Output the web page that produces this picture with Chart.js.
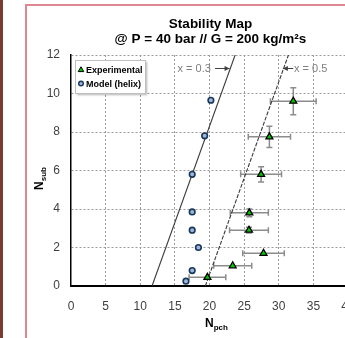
<!DOCTYPE html>
<html>
<head>
<meta charset="utf-8">
<script src="https://cdn.jsdelivr.net/npm/chart.js@4.4.0/dist/chart.umd.min.js"></script>
<style>
  html, body { margin: 0; padding: 0; background: #fff; overflow: hidden; }
  body { width: 345px; height: 338px; position: relative; }
  #edge { position: absolute; left: 0; top: 0; width: 3px; height: 338px; background: #7b3b33; }
  #frame { position: absolute; left: 25px; top: 4px; width: 420px; height: 420px; border: 2px solid #df8790; box-sizing: border-box; }
  #wrap { position: absolute; left: 0; top: 0; width: 400px; height: 338px; }
</style>
</head>
<body>
<div id="edge"></div>
<div id="frame"></div>
<div id="wrap"><canvas id="stabilityMap" width="400" height="338"></canvas></div>
<script>
// values
const modelNpch = [20.2, 19.3, 17.5, 17.5, 17.5, 18.4, 17.5, 16.6];
const modelNsub = [9.65, 7.8, 5.8, 3.85, 2.9, 2.0, 0.8, 0.25];

const expNpch = [32.1, 28.65, 27.45, 25.75, 25.7, 27.8, 23.35, 19.7];
const expNsub = [9.6, 7.75, 5.8, 3.8, 2.9, 1.7, 1.05, 0.45];
const expNpchErr = [3.3, 3.05, 2.95, 2.75, 2.8, 3.0, 2.75, 2.65];
const expNsubErr = [0.7, 0.55, 0.4, 0.2, 0.15, 0, 0, 0];

const quality03Npch = [11.7, 23.7];
const quality03Nsub = [0, 12];
const quality05Npch = [19.4, 31.4];
const quality05Nsub = [0, 12];

const titleLines = ['Stability Map', '@ P = 40 bar // G = 200 kg/m\u00b2s'];
const legendLabels = ['Experimental', 'Model (helix)'];

const toPoints = (xs, ys) => xs.map((x, i) => ({x: x, y: ys[i]}));

const expStyle = {pointStyle: 'triangle', radius: 4, borderWidth: 1.3, borderColor: '#000', backgroundColor: '#00c800'};
const modelStyle = {pointStyle: 'circle', radius: 2.8, borderWidth: 1.6, borderColor: '#17375e', backgroundColor: '#9fb6d4'};

// error bars under the triangles
const errorBars = {
    id: 'errorBars',
    beforeDatasetsDraw(chart) {
        const ctx = chart.ctx;
        const xs = chart.scales.x, ys = chart.scales.y;
        ctx.save();
        ctx.strokeStyle = '#8c8c8c';
        ctx.lineWidth = 1.5;
        expNpch.forEach((nx, i) => {
            const px = xs.getPixelForValue(nx);
            const py = ys.getPixelForValue(expNsub[i]);
            const x0 = xs.getPixelForValue(nx - expNpchErr[i]);
            const x1 = xs.getPixelForValue(nx + expNpchErr[i]);
            ctx.beginPath();
            ctx.moveTo(x0, py); ctx.lineTo(x1, py);
            ctx.moveTo(x0, py - 3); ctx.lineTo(x0, py + 3);
            ctx.moveTo(x1, py - 3); ctx.lineTo(x1, py + 3);
            if (expNsubErr[i] > 0) {
                const y0 = ys.getPixelForValue(expNsub[i] - expNsubErr[i]);
                const y1 = ys.getPixelForValue(expNsub[i] + expNsubErr[i]);
                ctx.moveTo(px, y0); ctx.lineTo(px, y1);
                ctx.moveTo(px - 3, y0); ctx.lineTo(px + 3, y0);
                ctx.moveTo(px - 3, y1); ctx.lineTo(px + 3, y1);
            }
            ctx.stroke();
        });
        ctx.restore();
    }
};

function legendMarker(ctx, style, radius, width, x, y) {
    ctx.save();
    ctx.fillStyle = style.backgroundColor;
    ctx.strokeStyle = style.borderColor;
    ctx.lineWidth = width;
    Chart.helpers.drawPoint(ctx, {pointStyle: style.pointStyle, radius: radius, borderWidth: width, rotation: 0}, x, y);
    ctx.restore();
}

// title, axis titles with subscripts, line labels and the boxed legend
const decorations = {
    id: 'decorations',
    afterDraw(chart) {
        const ctx = chart.ctx;
        const area = chart.chartArea;
        const xs = chart.scales.x, ys = chart.scales.y;
        const cx = (area.left + area.right) / 2 + 1;
        ctx.save();
        ctx.fillStyle = '#000';
        ctx.textAlign = 'center';
        ctx.textBaseline = 'alphabetic';
        ctx.font = 'bold 13.5px "Liberation Sans", Arial, sans-serif';
        ctx.fillText(titleLines[0], cx, 28);
        ctx.fillText(titleLines[1], cx, 43);

        // x axis title N_pch
        ctx.textAlign = 'left';
        const big = 'bold 12px "Liberation Sans", Arial, sans-serif';
        const small = 'bold 8px "Liberation Sans", Arial, sans-serif';
        ctx.font = big;
        const wN = ctx.measureText('N').width;
        ctx.font = small;
        const wPch = ctx.measureText('pch').width;
        let sx = cx + 6 - (wN + wPch) / 2;
        ctx.font = big;
        ctx.fillText('N', sx, 327);
        ctx.font = small;
        ctx.fillText('pch', sx + wN, 330);

        // y axis title N_sub
        ctx.save();
        ctx.translate(43, (area.top + area.bottom) / 2);
        ctx.rotate(-Math.PI / 2);
        ctx.font = small;
        const wSub = ctx.measureText('sub').width;
        sx = -(wN + wSub) / 2 - 8;
        ctx.font = big;
        ctx.fillText('N', sx, 0);
        ctx.font = small;
        ctx.fillText('sub', sx + wN, 3);
        ctx.restore();

        // labels on the quality lines
        ctx.font = '11px "Liberation Sans", Arial, sans-serif';
        ctx.fillStyle = '#7f7f7f';
        ctx.strokeStyle = '#404040';
        ctx.lineWidth = 1;
        const ly = ys.getPixelForValue(11.3);
        ctx.textAlign = 'right';
        ctx.fillText('x = 0.3', xs.getPixelForValue(20.2), ly + 4);
        drawArrow(ctx, xs.getPixelForValue(20.8), ly, xs.getPixelForValue(22.9), ly);
        ctx.fillStyle = '#7f7f7f';
        ctx.textAlign = 'left';
        ctx.fillText('x = 0.5', xs.getPixelForValue(32.2), ly + 4);
        drawArrow(ctx, xs.getPixelForValue(32.1), ly, xs.getPixelForValue(30.6), ly);

        // legend box
        const bx = area.left + 4, by = area.top + 5, bw = 70, bh = 33;
        ctx.shadowColor = 'rgba(0,0,0,0.3)';
        ctx.shadowOffsetX = 2;
        ctx.shadowOffsetY = 2;
        ctx.shadowBlur = 2;
        ctx.fillStyle = '#fff';
        ctx.fillRect(bx, by, bw, bh);
        ctx.shadowColor = 'transparent';
        ctx.strokeStyle = '#c0c0c0';
        ctx.lineWidth = 1;
        ctx.strokeRect(bx + 0.5, by + 0.5, bw, bh);
        legendMarker(ctx, expStyle, 3.2, 1, bx + 6, by + 10);
        legendMarker(ctx, modelStyle, 2.3, 1.4, bx + 6, by + 23.5);
        ctx.fillStyle = '#000';
        ctx.font = 'bold 9px "Liberation Sans", Arial, sans-serif';
        ctx.textAlign = 'left';
        ctx.fillText(legendLabels[0], bx + 11, by + 13);
        ctx.fillText(legendLabels[1], bx + 11, by + 27);
        ctx.restore();
    }
};

function drawArrow(ctx, x0, y0, x1, y1) {
    const dir = Math.sign(x1 - x0);
    ctx.beginPath();
    ctx.moveTo(x0, y0);
    ctx.lineTo(x1, y1);
    ctx.stroke();
    ctx.beginPath();
    ctx.moveTo(x1, y1);
    ctx.lineTo(x1 - dir * 5, y1 - 2.5);
    ctx.lineTo(x1 - dir * 5, y1 + 2.5);
    ctx.closePath();
    ctx.fillStyle = '#404040';
    ctx.fill();
}

const tickFont = {family: '"Liberation Sans", Arial, sans-serif', size: 12};

new Chart(document.getElementById('stabilityMap'), {
    type: 'scatter',
    data: {
        datasets: [{
            label: legendLabels[0],
            data: toPoints(expNpch, expNsub),
            pointStyle: expStyle.pointStyle,
            pointRadius: expStyle.radius,
            pointBorderWidth: expStyle.borderWidth,
            pointBorderColor: expStyle.borderColor,
            pointBackgroundColor: expStyle.backgroundColor
        }, {
            label: legendLabels[1],
            data: toPoints(modelNpch, modelNsub),
            pointStyle: modelStyle.pointStyle,
            pointRadius: modelStyle.radius,
            pointBorderWidth: modelStyle.borderWidth,
            pointBorderColor: modelStyle.borderColor,
            pointBackgroundColor: modelStyle.backgroundColor
        }, {
            label: 'x = 0.3',
            data: toPoints(quality03Npch, quality03Nsub),
            showLine: true,
            pointRadius: 0,
            borderColor: '#3a3a3a',
            borderWidth: 1.1
        }, {
            label: 'x = 0.5',
            data: toPoints(quality05Npch, quality05Nsub),
            showLine: true,
            pointRadius: 0,
            borderColor: '#3a3a3a',
            borderWidth: 1.1,
            borderDash: [4, 1.5]
        }]
    },
    options: {
        responsive: false,
        animation: false,
        layout: {padding: {left: 0, right: 52, top: 55, bottom: 0}},
        plugins: {
            legend: {display: false},
            tooltip: {enabled: false}
        },
        scales: {
            x: {
                type: 'linear',
                min: 0,
                max: 40,
                ticks: {stepSize: 5, color: '#404040', font: tickFont, padding: 13},
                grid: {
                    drawTicks: false,
                    color: (c) => c.tick && c.tick.value === 0 ? 'rgba(0,0,0,0)' : '#9a9a9a'
                },
                border: {color: '#000', width: 2, dash: [2, 2]},
                afterFit: (scale) => { scale.height = 52; }
            },
            y: {
                type: 'linear',
                min: 0,
                max: 12,
                ticks: {stepSize: 2, color: '#404040', font: tickFont, padding: 11},
                grid: {
                    drawTicks: false,
                    color: (c) => c.tick && c.tick.value === 0 ? 'rgba(0,0,0,0)' : '#9a9a9a'
                },
                border: {color: '#000', width: 1.5, dash: [2, 2]},
                afterFit: (scale) => { scale.width = 71; }
            }
        }
    },
    plugins: [errorBars, decorations]
});
</script>
</body>
</html>
